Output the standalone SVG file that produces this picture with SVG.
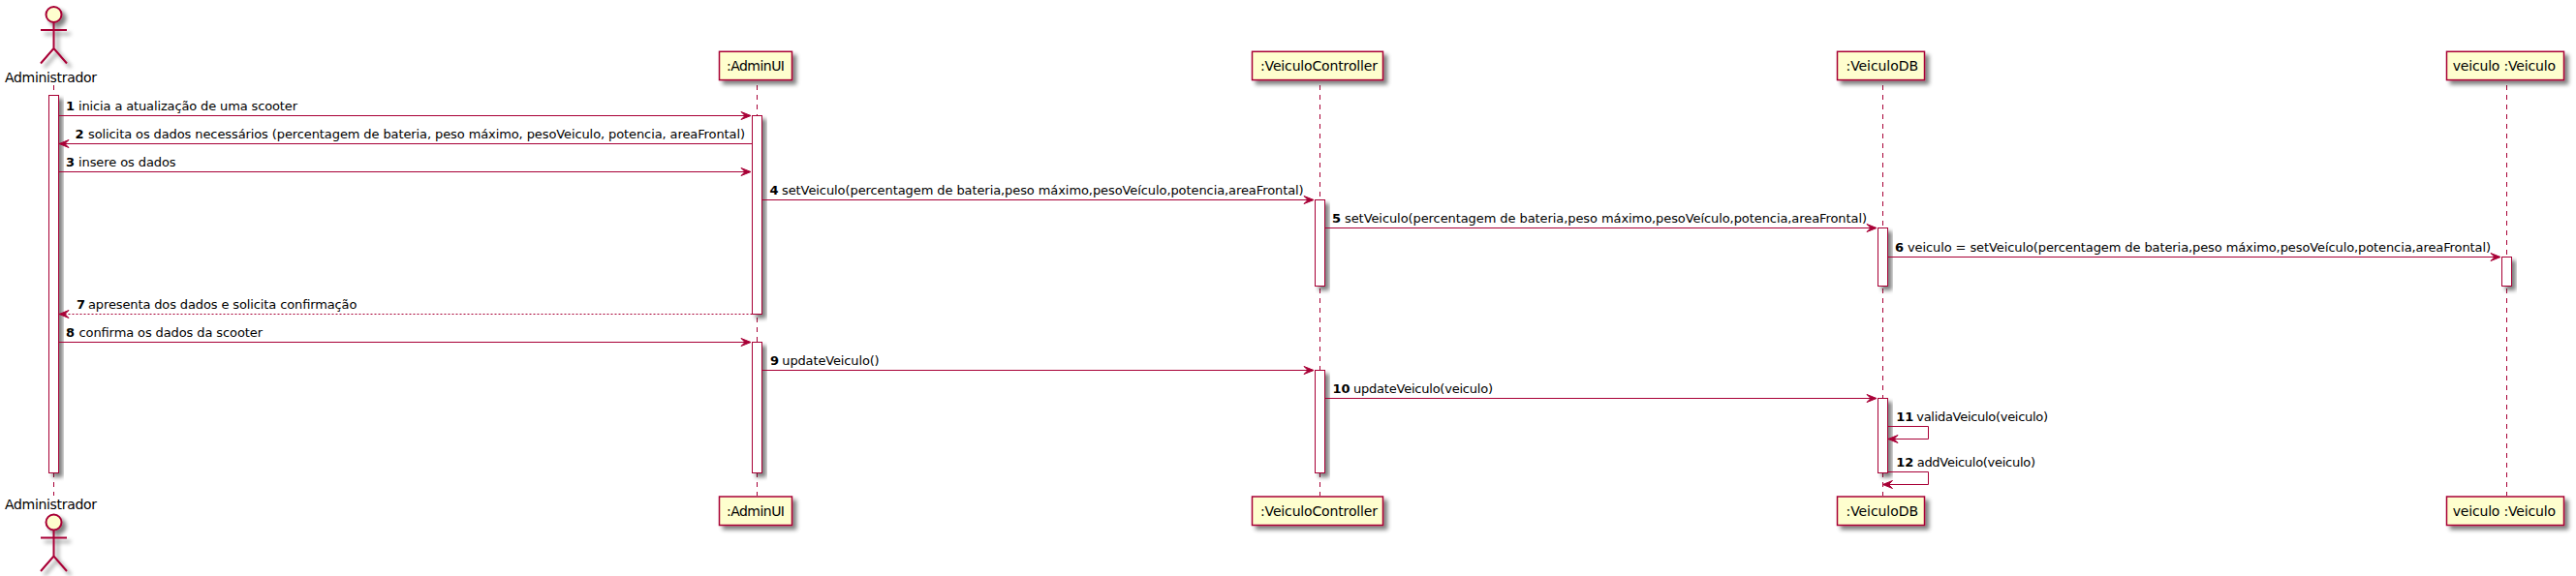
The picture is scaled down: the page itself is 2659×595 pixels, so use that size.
<svg xmlns="http://www.w3.org/2000/svg" width="2659" height="595" viewBox="0 0 2659 595">
<style>
text{font-family:"DejaVu Sans",sans-serif;fill:#000}
.pt{font-size:14px}
.m{font-size:13px}
.n{font-size:13px;font-weight:bold}
.life{stroke:#A80036;stroke-width:1;stroke-dasharray:5,5;fill:none}
.box{fill:#FEFECE;stroke:#A80036;stroke-width:1.5;filter:url(#shadow)}
.act{fill:#fff;stroke:#A80036;stroke-width:1;filter:url(#shadow)}
.actor{fill:none;stroke:#A80036;stroke-width:2;filter:url(#shadow)}
.head{fill:#FEFECE;stroke:#A80036;stroke-width:2;filter:url(#shadow)}
.msg{stroke:#A80036;stroke-width:1;fill:none}
.ret{stroke:#A80036;stroke-width:1;stroke-dasharray:2,2;fill:none}
.ah{fill:#A80036;stroke:#A80036;stroke-width:1}
</style>
<defs>
<filter id="shadow" x="-50%" y="-50%" width="200%" height="200%">
<feGaussianBlur in="SourceAlpha" stdDeviation="2" result="b"/>
<feOffset in="b" dx="4" dy="4" result="o"/>
<feComponentTransfer in="o" result="c"><feFuncA type="linear" slope="0.5"/></feComponentTransfer>
<feMerge><feMergeNode in="c"/><feMergeNode in="SourceGraphic"/></feMerge>
</filter>
<polygon id="ar" class="ah" points="-10,-4 0,0 -10,4 -6,0"/>
<polygon id="al" class="ah" points="10,-4 0,0 10,4 6,0"/>
</defs>
<rect width="2659" height="595" fill="#fff"/>

<g id="administrador">
<line class="life" x1="55.5" y1="88" x2="55.5" y2="512"/>
<circle class="head" cx="55.5" cy="15" r="8"/>
<path class="actor" d="M55.5,23V50M42,31H69M55.5,50L42,65.5M55.5,50L69,65.5"/>
<text class="pt" x="5" y="85" textLength="95">Administrador</text>
<rect class="act" x="50.5" y="98.5" width="10" height="390"/>
<text class="pt" x="5" y="526" textLength="95">Administrador</text>
<circle class="head" cx="55.5" cy="539.5" r="8"/>
<path class="actor" d="M55.5,547.5V574.5M42,555.5H69M55.5,574.5L42,590M55.5,574.5L69,590"/>
</g>

<g id="adminui">
<line class="life" x1="781.5" y1="88" x2="781.5" y2="512"/>
<rect class="box" x="742.5" y="53.3" width="75" height="29.3"/>
<text class="pt" x="750" y="73" textLength="60">:AdminUI</text>
<rect class="act" x="776.5" y="119.5" width="10" height="205"/>
<rect class="act" x="776.5" y="353.5" width="10" height="135"/>
<rect class="box" x="742.5" y="513" width="75" height="29.5"/>
<text class="pt" x="750" y="533" textLength="60">:AdminUI</text>
</g>

<g id="veiculocontroller">
<line class="life" x1="1362.5" y1="88" x2="1362.5" y2="512"/>
<rect class="box" x="1292.5" y="53.3" width="135" height="29.3"/>
<text class="pt" x="1301" y="73" textLength="121">:VeiculoController</text>
<rect class="act" x="1357.5" y="206.5" width="10" height="89"/>
<rect class="act" x="1357.5" y="382.5" width="10" height="106"/>
<rect class="box" x="1292.5" y="513" width="135" height="29.5"/>
<text class="pt" x="1301" y="533" textLength="121">:VeiculoController</text>
</g>

<g id="veiculodb">
<line class="life" x1="1943.5" y1="88" x2="1943.5" y2="512"/>
<rect class="box" x="1896.5" y="53.3" width="90" height="29.3"/>
<text class="pt" x="1905.5" y="73" textLength="74.5">:VeiculoDB</text>
<rect class="act" x="1938.5" y="235.5" width="10" height="60"/>
<rect class="act" x="1938.5" y="411.5" width="10" height="77"/>
<rect class="box" x="1896.5" y="513" width="90" height="29.5"/>
<text class="pt" x="1905.5" y="533" textLength="74.5">:VeiculoDB</text>
</g>

<g id="veiculo">
<line class="life" x1="2587.5" y1="88" x2="2587.5" y2="512"/>
<rect class="box" x="2525.5" y="53.3" width="121" height="29.3"/>
<text class="pt" x="2531.7" y="73" textLength="106.3">veiculo :Veiculo</text>
<rect class="act" x="2582.5" y="265.5" width="10" height="30"/>
<rect class="box" x="2525.5" y="513" width="121" height="29.5"/>
<text class="pt" x="2531.7" y="533" textLength="106.3">veiculo :Veiculo</text>
</g>

<g id="connectors">
<path class="msg" d="M60.5,119.5H775"/><use href="#ar" x="775" y="119.5"/>
<text class="n" x="68" y="114">1</text><text class="m" x="81" y="114" textLength="226">inicia a atualização de uma scooter</text>

<path class="msg" d="M776.5,148.5H61"/><use href="#al" x="61" y="148.5"/>
<text class="n" x="77.5" y="143">2</text><text class="m" x="91" y="143" textLength="678">solicita os dados necessários (percentagem de bateria, peso máximo, pesoVeiculo, potencia, areaFrontal)</text>

<path class="msg" d="M60.5,177.5H775"/><use href="#ar" x="775" y="177.5"/>
<text class="n" x="68" y="172">3</text><text class="m" x="81" y="172" textLength="100.6">insere os dados</text>

<path class="msg" d="M786.5,206.5H1356"/><use href="#ar" x="1356" y="206.5"/>
<text class="n" x="794.5" y="201">4</text><text class="m" x="807" y="201" textLength="538.7">setVeiculo(percentagem de bateria,peso máximo,pesoVeículo,potencia,areaFrontal)</text>

<path class="msg" d="M1367.5,235.5H1937"/><use href="#ar" x="1937" y="235.5"/>
<text class="n" x="1375" y="230">5</text><text class="m" x="1388" y="230" textLength="539">setVeiculo(percentagem de bateria,peso máximo,pesoVeículo,potencia,areaFrontal)</text>

<path class="msg" d="M1948.5,265.5H2581"/><use href="#ar" x="2581" y="265.5"/>
<text class="n" x="1956" y="260">6</text><text class="m" x="1969" y="260" textLength="602">veiculo = setVeiculo(percentagem de bateria,peso máximo,pesoVeículo,potencia,areaFrontal)</text>

<path class="ret" d="M776.5,324.5H61"/><use href="#al" x="61" y="324.5"/>
<text class="n" x="79" y="319">7</text><text class="m" x="91" y="319" textLength="277.4">apresenta dos dados e solicita confirmação</text>

<path class="msg" d="M60.5,353.5H775"/><use href="#ar" x="775" y="353.5"/>
<text class="n" x="68" y="348">8</text><text class="m" x="81.5" y="348" textLength="189.5">confirma os dados da scooter</text>

<path class="msg" d="M786.5,382.5H1356"/><use href="#ar" x="1356" y="382.5"/>
<text class="n" x="795" y="377">9</text><text class="m" x="807.3" y="377" textLength="100.4">updateVeiculo()</text>

<path class="msg" d="M1367.5,411.5H1937"/><use href="#ar" x="1937" y="411.5"/>
<text class="n" x="1375.5" y="406">10</text><text class="m" x="1397" y="406" textLength="144">updateVeiculo(veiculo)</text>

<path class="msg" d="M1948.5,440.5H1990.5V453.5H1949"/><use href="#al" x="1949" y="453.5"/>
<text class="n" x="1957.3" y="435">11</text><text class="m" x="1978.3" y="435" textLength="135.7">validaVeiculo(veiculo)</text>

<path class="msg" d="M1948.5,487.5H1990.5V500.5H1943.5"/><use href="#al" x="1943.5" y="500.5"/>
<text class="n" x="1957.3" y="482">12</text><text class="m" x="1978.7" y="482" textLength="122.3">addVeiculo(veiculo)</text>
</g>
</svg>
